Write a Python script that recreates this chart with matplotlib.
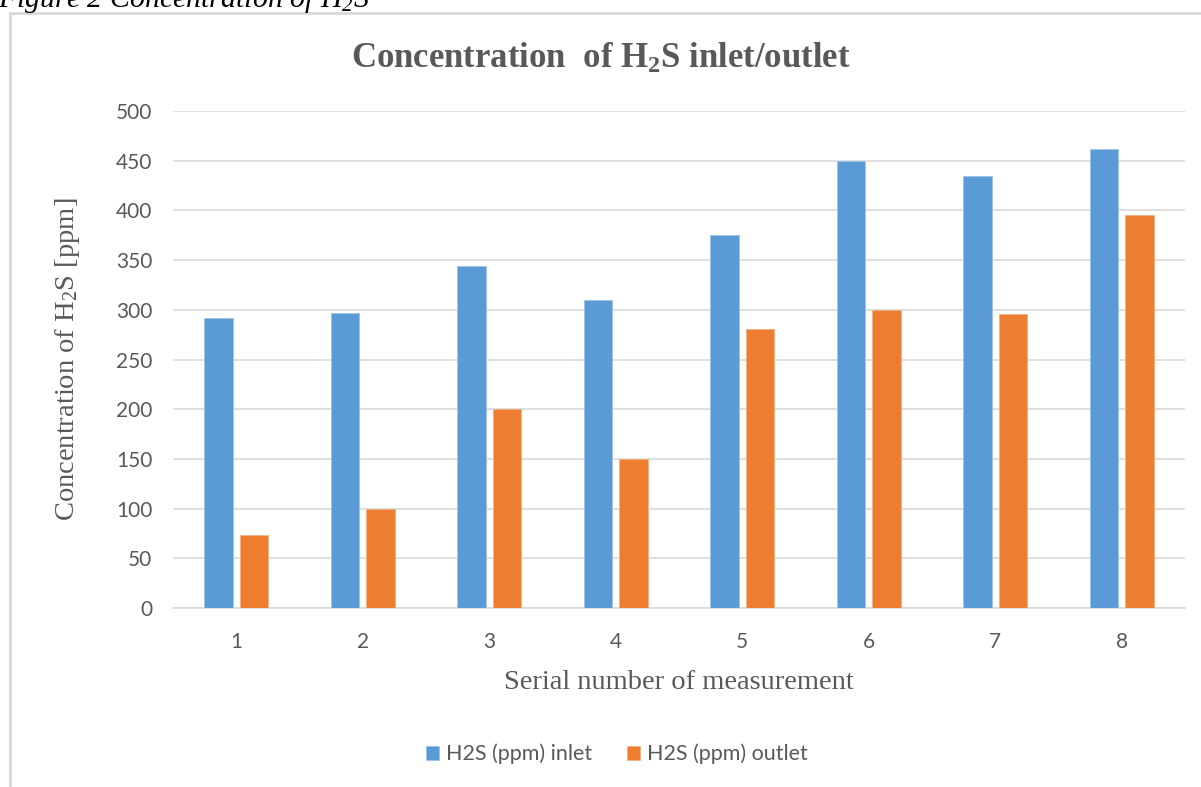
import matplotlib
matplotlib.use("Agg")
import matplotlib.pyplot as plt
import numpy as np
from matplotlib.patches import Rectangle

categories = ["1", "2", "3", "4", "5", "6", "7", "8"]
inlet = [292, 297, 344, 310, 375, 450, 435, 462]
outlet = [73, 100, 200, 150, 281, 300, 296, 395]
series_names = ["H2S (ppm) inlet", "H2S (ppm) outlet"]
yticks = [0, 50, 100, 150, 200, 250, 300, 350, 400, 450, 500]

BLUE = "#5B9BD5"
ORANGE = "#ED7D31"
GRID = "#D9D9D9"
TXT = "#595959"
SANS = "Lato"
SERIF = "Liberation Serif"

fig = plt.figure(figsize=(12.01, 7.87), dpi=100)
W, H = 1201, 787
ax = fig.add_axes([173 / W, 1 - 608 / H, (1185 - 173) / W, (608 - 111) / H])

x = np.arange(len(categories))
bw = 0.226
off = 0.141
ax.bar(x - off, inlet, bw, color=BLUE, edgecolor="#9DC3E6", linewidth=0.6, label=series_names[0], zorder=3)
ax.bar(x + off, outlet, bw, color=ORANGE, edgecolor="#F4B183", linewidth=0.6, label=series_names[1], zorder=3)

ax.set_xlim(-0.5, len(categories) - 0.5)
ax.set_ylim(0, 500)
ax.set_yticks(yticks)
ax.set_xticks(x)
ax.set_xticklabels(categories)
ax.yaxis.grid(True, color=GRID, linewidth=1.2, zorder=0)
ax.set_axisbelow(True)
for s in ["top", "right", "left"]:
    ax.spines[s].set_visible(False)
ax.spines["bottom"].set_color(GRID)
ax.spines["bottom"].set_linewidth(1.2)
ax.tick_params(axis="both", length=0, colors=TXT, labelsize=15)
ax.tick_params(axis="y", pad=15)
ax.tick_params(axis="x", pad=17)
for lab in ax.get_xticklabels() + ax.get_yticklabels():
    lab.set_family(SANS)

ax.set_ylabel(r"Concentration of H$\mathregular{_2}$S [ppm]", family=SERIF, fontsize=20.5, color=TXT, labelpad=24)
ax.set_xlabel("Serial number of measurement", family=SERIF, fontsize=20.5, color=TXT, labelpad=13)

fig.text(601 / W, 1 - 59 / H, r"Concentration  of H$\mathregular{_2}$S inlet/outlet", family=SERIF,
         weight="bold", fontsize=25, color=TXT, ha="center", va="center")

fig.text(-2 / W, 1 - 7 / H, r"Figure 2 Concentration of H$\mathregular{_2}$S", family=SERIF, style="italic",
         fontsize=21.5, color="black", ha="left", va="baseline")

leg = fig.legend(loc="center", bbox_to_anchor=(617 / W, 1 - 754 / H), ncol=2, frameon=False,
                 prop={"family": SANS, "size": 15.5}, handlelength=0.6, handleheight=0.6,
                 handletextpad=0.35, columnspacing=1.6)
for t in leg.get_texts():
    t.set_color(TXT)

fig.patches.append(Rectangle((10 / W, -0.05), 1.2, 1 - 13 / H + 0.05, transform=fig.transFigure,
                             fill=False, edgecolor=GRID, linewidth=2, figure=fig))

fig.savefig("out.png", dpi=100)
